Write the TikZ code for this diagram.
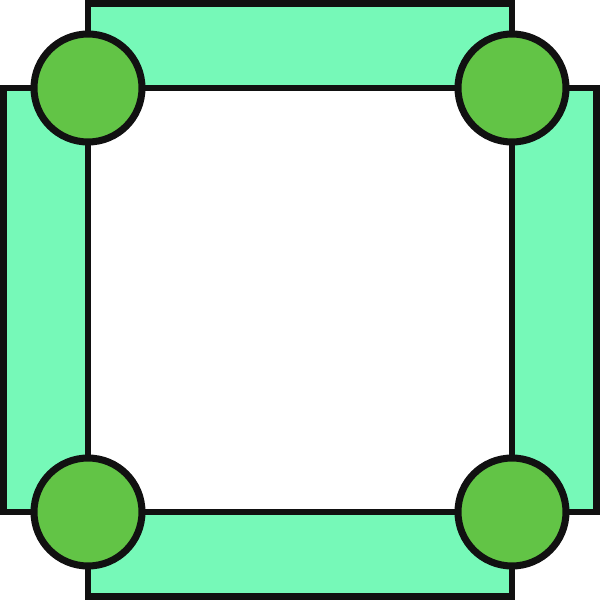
\documentclass[tikz,border=0pt]{standalone}
\usepackage{tikz}

\definecolor{barfill}{HTML}{76F9B8}
\definecolor{jointfill}{HTML}{62C446}
\definecolor{edge}{HTML}{111111}

\begin{document}
\begin{tikzpicture}[line width=1.75pt, line join=miter,
  bar/.style={draw=edge, fill=barfill},
  joint/.style={draw=edge, fill=jointfill, circle, minimum size=1.08cm, inner sep=0pt, line width=2pt}]
  \useasboundingbox (0,0) rectangle (6,6);
  % Draw the four bars
  \draw[bar] (0.88,5.12) rectangle (5.12,5.965);
  \draw[bar] (0.035,0.88) rectangle (0.88,5.12);
  \draw[bar] (5.12,0.88) rectangle (5.965,5.12);
  \draw[bar] (0.88,0.035) rectangle (5.12,0.88);
  % Corner joints
  \node[joint] (tl) at (0.88,5.12) {};
  \node[joint] (tr) at (5.12,5.12) {};
  \node[joint] (bl) at (0.88,0.88) {};
  \node[joint] (br) at (5.12,0.88) {};
\end{tikzpicture}
\end{document}
